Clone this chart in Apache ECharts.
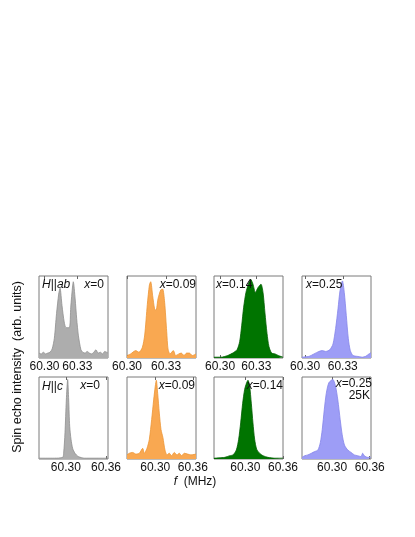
<!DOCTYPE html>
<html><head><meta charset="utf-8">
<script src="https://cdn.jsdelivr.net/npm/echarts@6/dist/echarts.min.js"></script>
<style>html,body{margin:0;padding:0;background:#fff}#c{width:415px;height:537px}</style>
</head><body><div id="c"></div>
<script>
// ---- data: frequency (MHz) and normalized spin echo intensity ----
// H||ab
const ab_x000_f = [60.295,60.297,60.299,60.301,60.303,60.305,60.307,60.309,60.311,60.313,60.3142,60.316,60.318,60.3197,60.3227,60.324,60.3257,60.3263,60.328,60.3294,60.331,60.3333,60.335,60.337,60.339,60.341,60.343,60.345,60.347,60.349,60.351,60.353,60.355,60.358];
const ab_x000_I = [0.06,0.05,0.07,0.05,0.06,0.07,0.11,0.24,0.54,0.78,0.85,0.64,0.44,0.37,0.37,0.62,0.88,0.93,0.72,0.48,0.27,0.10,0.07,0.06,0.08,0.06,0.05,0.07,0.10,0.06,0.07,0.05,0.08,0.06];
const ab_x009_f = [60.300,60.3028,60.3067,60.3092,60.3118,60.3136,60.3156,60.3172,60.3182,60.3197,60.3212,60.3223,60.3238,60.3259,60.3274,60.3289,60.3305,60.3315,60.333,60.3356,60.3374,60.3399,60.3417,60.3438,60.3458,60.3479,60.3502,60.353];
const ab_x009_I = [0.03,0.05,0.09,0.07,0.13,0.28,0.65,0.89,0.93,0.76,0.60,0.58,0.72,0.83,0.84,0.68,0.32,0.11,0.05,0.09,0.03,0.05,0.06,0.03,0.06,0.06,0.03,0.05];
const ab_x014_f = [60.295,60.3008,60.3063,60.3104,60.314,60.3162,60.3179,60.3195,60.3214,60.3234,60.3253,60.3272,60.3292,60.3314,60.3338,60.3355,60.3371,60.3388,60.3404,60.3426,60.3454,60.3482,60.352];
const ab_x014_I = [0.01,0.01,0.03,0.06,0.10,0.20,0.40,0.62,0.80,0.90,0.96,0.90,0.80,0.86,0.90,0.80,0.55,0.30,0.14,0.06,0.05,0.03,0.01];
const ab_x025_f = [60.2975,60.3031,60.3071,60.311,60.3137,60.3164,60.3196,60.3222,60.3243,60.3262,60.3278,60.3297,60.3312,60.3328,60.3344,60.336,60.3382,60.3416,60.3456,60.3482,60.3509,60.3525];
const ab_x025_I = [0.01,0.02,0.05,0.08,0.09,0.08,0.10,0.17,0.36,0.60,0.82,0.94,0.80,0.52,0.24,0.09,0.03,0.02,0.01,0.02,0.05,0.065];
// H||c
const c_x000_f = [60.26,60.283,60.2953,60.2968,60.2988,60.3008,60.3028,60.3043,60.3058,60.3078,60.3102,60.3137,60.3187,60.3277,60.3426,60.363];
const c_x000_I = [0.01,0.01,0.02,0.07,0.32,0.72,0.97,0.72,0.40,0.24,0.13,0.07,0.03,0.01,0.01,0.01];
const c_x009_f = [60.255,60.2587,60.264,60.2693,60.2747,60.28,60.2826,60.2869,60.2906,60.2943,60.2975,60.3001,60.3017,60.3039,60.3065,60.3092,60.3123,60.3155,60.3187,60.3224,60.3262,60.3304,60.3347,60.3384,60.3421,60.3463,60.3516,60.357,60.365];
const c_x009_I = [0.05,0.07,0.08,0.06,0.07,0.13,0.07,0.13,0.24,0.48,0.72,0.89,0.96,0.80,0.56,0.36,0.26,0.11,0.05,0.07,0.04,0.08,0.05,0.07,0.04,0.07,0.06,0.05,0.06];
const c_x014_f = [60.25,60.267,60.275,60.2803,60.2856,60.2893,60.2925,60.2957,60.2989,60.302,60.3042,60.3068,60.3095,60.3121,60.3148,60.318,60.3227,60.3281,60.336,60.3466,60.36];
const c_x014_I = [0.01,0.02,0.04,0.05,0.11,0.24,0.44,0.68,0.85,0.93,0.96,0.89,0.68,0.44,0.24,0.12,0.07,0.04,0.02,0.01,0.01];
const c_x025_f = [60.252,60.2563,60.2615,60.2669,60.2721,60.2774,60.2812,60.2843,60.2875,60.2907,60.2948,60.3011,60.3054,60.3091,60.3129,60.316,60.3197,60.3249,60.3303,60.3355,60.3408,60.3461,60.3487,60.3514,60.3566,60.362];
const c_x025_I = [0.02,0.04,0.05,0.07,0.09,0.11,0.20,0.36,0.60,0.80,0.93,0.97,0.89,0.72,0.48,0.30,0.17,0.11,0.08,0.05,0.04,0.03,0.07,0.04,0.02,0.02];

const topTicks = [60.30, 60.33];
const botTicks = [60.30, 60.36];

// ---- layout / style ----
const panels = [
  {f: ab_x000_f, I: ab_x000_I, min: 60.295, max: 60.358, ticks: topTicks, left: 39,  top: 276, fill: '#adadad', line: '#8f8f8f'},
  {f: ab_x009_f, I: ab_x009_I, min: 60.300, max: 60.353, ticks: topTicks, left: 127, top: 276, fill: '#f9a851', line: '#ec9536'},
  {f: ab_x014_f, I: ab_x014_I, min: 60.295, max: 60.352, ticks: topTicks, left: 214, top: 276, fill: '#007400', line: '#005e00'},
  {f: ab_x025_f, I: ab_x025_I, min: 60.2975, max: 60.3525, ticks: topTicks, left: 302, top: 276, fill: '#9d9df6', line: '#8585ea'},
  {f: c_x000_f, I: c_x000_I, min: 60.26, max: 60.363, ticks: botTicks, left: 39,  top: 377, fill: '#adadad', line: '#8f8f8f'},
  {f: c_x009_f, I: c_x009_I, min: 60.255, max: 60.365, ticks: botTicks, left: 127, top: 377, fill: '#f9a851', line: '#ec9536'},
  {f: c_x014_f, I: c_x014_I, min: 60.25, max: 60.36, ticks: botTicks, left: 214, top: 377, fill: '#007400', line: '#005e00'},
  {f: c_x025_f, I: c_x025_I, min: 60.252, max: 60.362, ticks: botTicks, left: 302, top: 377, fill: '#9d9df6', line: '#8585ea'}
];
const W = 69, H = 82;
const FONT = 'Liberation Sans, Arial, sans-serif';
const FS = 12;

const grid = [], xAxis = [], yAxis = [], series = [];
panels.forEach((p, i) => {
  grid.push({left: p.left, top: p.top, width: W, height: H, show: true, borderColor: '#7a7a7a', borderWidth: 1, backgroundColor: '#fff', containLabel: false});
  xAxis.push({type: 'value', gridIndex: i, min: p.min, max: p.max, position: 'bottom',
    axisLine: {show: false}, splitLine: {show: false},
    axisTick: {show: true, inside: true, length: 3, lineStyle: {color: '#666'}, customValues: p.ticks},
    axisLabel: {show: true, customValues: p.ticks, color: '#111', fontSize: FS, fontFamily: FONT, margin: 3,
      formatter: v => v.toFixed(2)}});
  xAxis.push({type: 'value', gridIndex: i, min: p.min, max: p.max, position: 'top',
    axisLine: {show: false}, splitLine: {show: false},
    axisTick: {show: true, inside: true, length: 3, lineStyle: {color: '#666'}, customValues: p.ticks},
    axisLabel: {show: false}});
  yAxis.push({type: 'value', gridIndex: i, min: 0, max: 1, show: false});
  series.push({type: 'line', xAxisIndex: 2 * i, yAxisIndex: i, symbol: 'none', smooth: 0.25, silent: true,
    data: p.f.map((f, k) => [f, p.I[k]]),
    lineStyle: {color: p.line, width: 0.8}, areaStyle: {color: p.fill, opacity: 1}});
});

const rich = {
  n: {fontSize: FS, fontFamily: FONT, color: '#111'},
  i: {fontSize: FS, fontFamily: FONT, color: '#111', fontStyle: 'italic'}
};
function label(x, y, text, align) {
  return {type: 'text', x: x, y: y, z: 100,
    style: {text: text, rich: rich, font: FS + 'px ' + FONT, fill: '#111', align: align || 'left', verticalAlign: 'middle'}};
}
const graphic = [
  label(42, 285, '{i|H}{n|||}{i|ab}'),
  label(104, 285, '{i|x}{n|=0}', 'right'),
  label(196, 285, '{i|x}{n|=0.09}', 'right'),
  label(216, 285, '{i|x}{n|=0.14}'),
  label(306, 285, '{i|x}{n|=0.25}'),
  label(42, 387, '{i|H}{n|||}{i|c}'),
  label(100, 386, '{i|x}{n|=0}', 'right'),
  label(195, 386, '{i|x}{n|=0.09}', 'right'),
  label(283, 386, '{i|x}{n|=0.14}', 'right'),
  label(372, 384, '{i|x}{n|=0.25}', 'right'),
  label(370, 396, '{n|25K}', 'right'),
  label(195, 482, '{i|f}{n|  (MHz)}', 'center'),
  {type: 'text', x: 18, y: 367, rotation: Math.PI / 2, z: 100,
    style: {text: 'Spin echo intensity  (arb. units)', font: '12.5px ' + FONT, fill: '#111', align: 'center', verticalAlign: 'middle'}}
];

const chart = echarts.init(document.getElementById('c'), null, {renderer: 'canvas'});
chart.setOption({animation: false, backgroundColor: '#fff', grid, xAxis, yAxis, series, graphic});
</script></body></html>
